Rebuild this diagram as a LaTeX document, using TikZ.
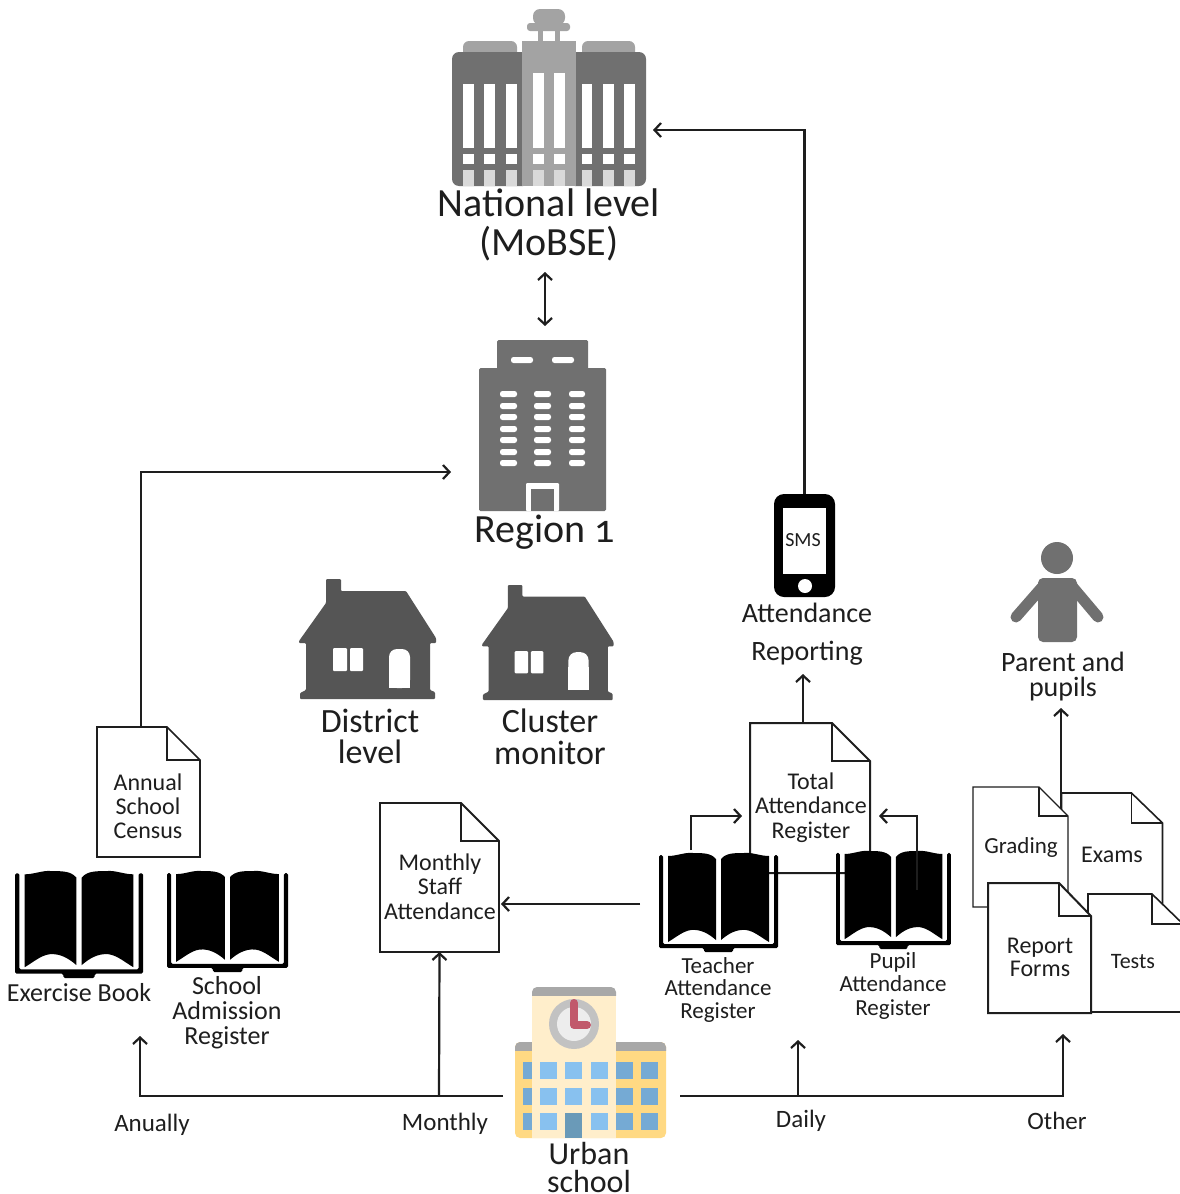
\documentclass[tikz,border=0pt]{standalone}
\usepackage{fontspec}
\setmainfont{Carlito}
\usetikzlibrary{arrows.meta}
\definecolor{ink}{HTML}{1E1E1E}
\definecolor{bgray}{HTML}{707070}
\definecolor{lgray}{HTML}{A3A3A3}
\definecolor{pale}{HTML}{D9D9D9}
\definecolor{house}{HTML}{555555}
\definecolor{wing}{HTML}{FFD983}
\definecolor{towerc}{HTML}{FFEECB}
\definecolor{roofc}{HTML}{A8A8A8}
\definecolor{winA}{HTML}{88C1EF}
\definecolor{winB}{HTML}{75AAD4}
\definecolor{doorc}{HTML}{6A9AB8}
\definecolor{handc}{HTML}{C1596B}
\newcommand\fsz[2]{\fontsize{#1}{#2}\selectfont}
\newcommand\docoutline[4]{% name, fold w, fold h, line width
  \filldraw[draw=ink,fill=white,line width=#4pt,line join=miter] (#1.north west) -- ([xshift=-#2pt]#1.north east) -- ([yshift=-#3pt]#1.north east) -- (#1.south east) -- (#1.south west) -- cycle;
  \draw[draw=ink,line width=#4pt,line join=miter] ([xshift=-#2pt]#1.north east) -- ++(0,#3) -- ++(#2,0);
}
\tikzset{
  x=1pt,y=-1pt,
  iconbox/.style={inner sep=0pt,outer sep=0pt,minimum width=#1},
  lbl/.style={align=center,text=ink,inner sep=0pt,outer sep=0pt},
  link/.style={draw=ink,line width=2.2pt},
  arr/.style={link,-{Straight Barb[length=6.5pt,width=14pt,line width=2.2pt]}},
  darr/.style={link,{Straight Barb[length=6.5pt,width=14pt,line width=2.2pt]}-{Straight Barb[length=6.5pt,width=14pt,line width=2.2pt]}},
  bookicon/.pic={
    \fill[black,rounded corners=1.5pt] (0,3) -- (4,3) -- (4,92) -- (115,92) -- (115,3) -- (119,3) -- (119,96) -- (74,96) -- (74,100) -- (45,100) -- (45,96) -- (0,96) -- cycle;
    \fill[black] (9,4) .. controls (18,4) and (26,0) .. (34,1) .. controls (44,1) and (52,1) .. (57,7) -- (57,88) .. controls (50,82) and (42,77) .. (32,78) .. controls (24,79) and (16,86) .. (9,90) -- cycle;
    \fill[black] (110,4) .. controls (101,4) and (93,0) .. (85,1) .. controls (75,1) and (67,1) .. (62,7) -- (62,88) .. controls (69,82) and (77,77) .. (87,78) .. controls (95,79) and (103,86) .. (110,90) -- cycle;
  },
  houseicon/.pic={
    \fill[house,rounded corners=1pt] (0,62) -- (27,24) -- (27,0) -- (42,0) -- (42,12) -- (107,12) -- (137,59) -- (137,64) -- (131,64) -- (131,111) -- (136,113) -- (136,120) -- (1,120) -- (1,114) -- (7,111) -- (7,64) -- (0,64) -- cycle;
    \fill[white,rounded corners=1pt] (34,69) rectangle (48,92);
    \fill[white,rounded corners=1pt] (51,69) rectangle (64,92);
    \fill[white,rounded corners=8pt] (90,109) -- (90,70) -- (111,70) -- (111,109) -- cycle;
    \fill[white] (90,85) rectangle (111,109);
  },
}
\begin{document}
\begin{tikzpicture}
\clip (0,0) rectangle (1180,1194);
\fill[white] (0,0) rectangle (1180,1194);

% ---------- National building
\node[iconbox=194pt,minimum height=177pt] (national) at (549,97.5) {};
\fill[lgray,rounded corners=6pt] (463,52) -- (463,41) -- (517,41) -- (517,60) -- (463,60) -- cycle;
\fill[lgray,rounded corners=6pt] (582,52) -- (582,41) -- (635,41) -- (635,60) -- (582,60) -- cycle;
\fill[bgray,rounded corners=7pt] (452,52) rectangle (530,186);
\fill[bgray,rounded corners=7pt] (568,52) rectangle (646,186);
\fill[lgray] (522,41) rectangle (576,186);
\fill[lgray,rounded corners=7pt] (533,25) -- (533,9) -- (565,9) -- (565,25) -- cycle;
\fill[lgray,rounded corners=3pt] (527,31) -- (527,23) -- (570,23) -- (570,31) -- cycle;
\fill[lgray] (538,30) rectangle (543,42);
\fill[lgray] (555,30) rectangle (560,42);
\foreach \xa/\xb in {463/474,484/495,506/517,582/592,603/614,624/635}{
  \fill[white] (\xa,84) rectangle (\xb,148);
  \fill[white] (\xa,154) rectangle (\xb,164);
  \fill[pale] (\xa,170) rectangle (\xb,186);
}
\foreach \xa/\xb in {533/544,554/565}{
  \fill[white] (\xa,73) rectangle (\xb,148);
  \fill[white] (\xa,154) rectangle (\xb,164);
  \fill[pale] (\xa,170) rectangle (\xb,186);
}
\node[lbl,font=\fsz{40}{39}] (nationalT) at (549,225) {National level\\(MoBSE)};

% ---------- Region building
\node[iconbox=127pt,minimum height=171pt] (region) at (542.5,425.5) {};
\fill[bgray,rounded corners=1.5pt] (497,340) rectangle (588,372);
\fill[bgray,rounded corners=1.5pt] (479,368) rectangle (606,511);
\foreach \xa/\xb in {511/533,552/574}{\fill[white,rounded corners=2.5pt] (\xa,357) rectangle (\xb,363);}
\foreach \yy in {394,406,417,429,440,452,463}{
  \foreach \xa/\xb in {500/517,534/551,569/585}{
    \fill[white,rounded corners=2.5pt] (\xa,\yy-3) rectangle (\xb,\yy+3);
  }
}
\fill[white,rounded corners=1pt] (526,483) rectangle (559,511);
\fill[bgray] (531,489) rectangle (554,511);
\node[lbl,font=\fsz{40}{40}\addfontfeature{Numbers=OldStyle}] (regionT) at (545,532) {Region 1};

% ---------- Houses
\node[iconbox=137pt,minimum height=120pt] (district) at (367.5,639) {};
\pic at (299,579) {houseicon};
\node[iconbox=132pt,minimum height=115pt] (cluster) at (548,642.5) {};
\pic[scale=.96] at (482,585) {houseicon};
\node[lbl,font=\fsz{34}{31}] (districtT) at (370,736.5) {District\\level};
\node[lbl,font=\fsz{34}{32}] (clusterT) at (550,737) {Cluster\\monitor};

% ---------- Phone
\node[iconbox=61pt,minimum height=103pt] (phone) at (804.5,545.5) {};
\fill[black,rounded corners=10pt] (774,494) rectangle (835,597);
\fill[white] (783,508) rectangle (826,574);
\fill[white] (805,586) circle (7);
\node[lbl,font=\fsz{20}{20}] (smsT) at (803,540) {SMS};
\node[lbl,font=\fsz{28}{38},minimum height=76pt] (attendT) at (807,634) {Attendance\\Reporting};

% ---------- Person
\node[iconbox=90pt,minimum height=100pt] (person) at (1057,592) {};
\fill[bgray] (1057,558) circle (16);
\draw[bgray,line width=11pt,line cap=round] (1044,585) -- (1016,617);
\draw[bgray,line width=11pt,line cap=round] (1071,585) -- (1098,617);
\fill[bgray,rounded corners=5pt] (1038,578) rectangle (1077,642);
\node[lbl,font=\fsz{28}{25},minimum height=60pt] (parentT) at (1063,676.5) {Parent and\\pupils};

% ---------- Documents
\node[iconbox=103pt,minimum height=130pt] (census) at (148.5,792) {};
\docoutline{census}{33}{33}{1.6}
\node[lbl,font=\fsz{24}{24}] (censusT) at (148,806) {Annual\\School\\Census};

\node[iconbox=119pt,minimum height=149pt] (monthly) at (439.5,877.5) {};
\docoutline{monthly}{38}{38}{1.8}
\node[lbl,font=\fsz{24}{24.5}] (monthlyT) at (440,886.5) {Monthly\\Staff\\Attendance};

\node[iconbox=120pt,minimum height=150pt] (total) at (810,798) {};
\docoutline{total}{38}{38}{2}
\node[lbl,font=\fsz{24}{24.5}] (totalT) at (811,807.5) {Total\\Attendance\\Register};

\node[iconbox=101pt,minimum height=127pt] (exams) at (1112,856.5) {};
\docoutline{exams}{31}{30}{1.6}
\node[lbl,font=\fsz{24}{24}] (examsT) at (1112,855) {Exams};

\node[iconbox=95pt,minimum height=120pt] (grading) at (1020.5,847) {};
\docoutline{grading}{29}{29}{1.4}
\node[lbl,font=\fsz{23}{23}] (gradingT) at (1021,847) {Grading};

\node[iconbox=95pt,minimum height=118pt] (tests) at (1135.5,953) {};
\docoutline{tests}{31}{30}{1.6}
\node[lbl,font=\fsz{22}{22}] (testsT) at (1133,962) {Tests};

\node[iconbox=103pt,minimum height=130pt] (report) at (1039.5,948) {};
\docoutline{report}{32}{33}{2}
\node[lbl,font=\fsz{24}{23}] (reportT) at (1040,957.5) {Report\\Forms};

% ---------- Books
\node[iconbox=128pt,minimum height=108pt] (exercise) at (79,924) {};
\pic[xscale=1.076,yscale=1.08] at (15,870) {bookicon};
\node[lbl,font=\fsz{26}{26}] (exerciseT) at (79,993) {Exercise Book};

\node[iconbox=121pt,minimum height=102pt] (admission) at (227.5,921) {};
\pic[xscale=1.017,yscale=1.02] at (167,870) {bookicon};
\node[lbl,font=\fsz{26}{25}] (admissionT) at (227,1013) {School\\Admission\\Register};

\node[iconbox=119pt,minimum height=100pt] (teacher) at (718.5,902) {};
\pic at (659,852) {bookicon};
\node[lbl,font=\fsz{23}{22.5}] (teacherT) at (718,989.5) {Teacher\\Attendance\\Register};

\node[iconbox=115pt,minimum height=99pt] (pupil) at (893.5,899.5) {};
\pic[xscale=.966,yscale=.99] at (836,850) {bookicon};
\node[lbl,font=\fsz{23}{23.5}] (pupilT) at (893,985.5) {Pupil\\Attendance\\Register};

% ---------- School
\node[iconbox=151pt,minimum height=151pt] (school) at (590.5,1062.5) {};
\fill[wing,rounded corners=5pt] (515,1042) rectangle (666,1138);
\begin{scope}
\clip (515,1042) rectangle (666,1050);
\fill[roofc,rounded corners=5pt] (515,1042) rectangle (666,1060);
\end{scope}
\fill[towerc] (532,995) rectangle (616,1138);
\begin{scope}
\clip (532,987) rectangle (616,995);
\fill[roofc,rounded corners=5pt] (532,987) rectangle (616,1005);
\end{scope}
\fill[roofc!70!white] (574,1024) circle (25);
\fill[black!7] (574,1024) circle (17);
\draw[handc,line width=8pt,line cap=round,line join=round] (574,1003) -- (574,1025) -- (587,1025);
\foreach \ya/\yb in {1062/1079,1088/1105,1113/1130}{
  \fill[winB] (523,\ya) rectangle (532,\yb);
  \fill[winB] (616,\ya) rectangle (633,\yb);
  \fill[winB] (641,\ya) rectangle (658,\yb);
  \fill[winA] (540,\ya) rectangle (557,\yb);
  \fill[winA] (591,\ya) rectangle (608,\yb);
}
\fill[winA] (565,1062) rectangle (582,1079);
\fill[winA] (565,1088) rectangle (582,1105);
\fill[doorc] (565,1113) rectangle (582,1138);
\node[lbl,font=\fsz{32}{28}] (schoolT) at (589,1167) {Urban\\school};

% ---------- Timeline labels
\node[lbl,font=\fsz{25}{25}] (anT) at (152,1125) {Anually};
\node[lbl,font=\fsz{25}{25}] (moT) at (445,1124) {Monthly};
\node[lbl,font=\fsz{25}{25}] (daT) at (801,1121) {Daily};
\node[lbl,font=\fsz{25}{25}] (otT) at (1057,1121) {Other};

% ---------- Connectors
\coordinate (busW) at (503,1096);
\coordinate (busE) at (680,1096);
\coordinate (tapM) at (439,1096);
\coordinate (tapD) at (798,1096);
\coordinate (dailyEnd) at (798,1040);
\draw[arr] (phone.north) |- ([xshift=7pt,yshift=-32.5pt]national.east);
\draw[darr] ([xshift=-4pt,yshift=-86pt]national.south) -- ([xshift=2.5pt,yshift=14pt]region.north);
\draw[arr] ([xshift=-7.5pt]census.north) |- ([xshift=-28pt,yshift=-46.5pt]region.west);
\draw[arr] ([xshift=-7pt]total.north) -- ([xshift=-4pt,yshift=-2pt]attendT.south);
\draw[link,line width=2pt,->,arr] ([xshift=-27.5pt,yshift=2pt]teacher.north) |- ([xshift=-8pt,yshift=-18pt]total.west);
\draw[arr] ([xshift=23.5pt,yshift=-40pt]pupil.north) |- ([xshift=9pt,yshift=-18pt]total.east);
\draw[arr] ([xshift=-19pt,yshift=-2pt]teacher.west) -- ([xshift=2pt,yshift=-26.5pt]monthly.east);
\draw[arr] (busW) -| ([xshift=61pt,yshift=-58pt]exercise.south);
\draw[arr] (tapM) -- (monthly.south);
\draw[arr] (busE) -| ([xshift=23.5pt,yshift=-21pt]report.south);
\draw[arr] (tapD) -- (dailyEnd);
\draw[arr] ([xshift=40.5pt,yshift=-21pt]grading.north) -- ([xshift=-2pt,yshift=-1.5pt]parentT.south);
\end{tikzpicture}
\end{document}
